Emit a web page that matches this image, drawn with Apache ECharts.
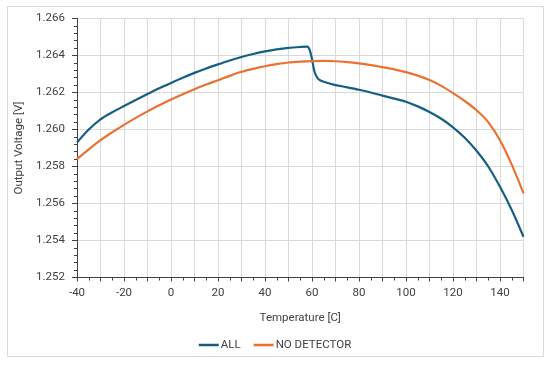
<!DOCTYPE html>
<html>
<head>
<meta charset="utf-8">
<script src="https://cdn.jsdelivr.net/npm/echarts@6/dist/echarts.min.js"></script>
<style>
html,body{margin:0;padding:0;background:#fff;}
#chart{width:550px;height:366px;}
</style>
</head>
<body>
<div id="chart"></div>
<script>
var seriesNames = ['ALL', 'NO DETECTOR'];
var tempAll = [-40,-35,-30,-25,-20,-15,-10,-5,0,5,10,15,20,25,30,35,40,45,50,55,58,59,60,61,62,63,65,70,75,80,85,90,95,100,105,110,115,120,125,130,135,140,145,150];
var voltAll = [1.25930,1.26000,1.26055,1.26093,1.26127,1.26160,1.26192,1.26223,1.26252,1.26280,1.26306,1.26330,1.26352,1.26373,1.26392,1.26408,1.26422,1.26433,1.26441,1.26446,1.26448,1.26430,1.26380,1.26315,1.26285,1.26270,1.26258,1.26240,1.26228,1.26215,1.26200,1.26183,1.26167,1.26150,1.26125,1.26095,1.26058,1.26012,1.25955,1.25885,1.25800,1.25690,1.25565,1.25420];
var tempND = [-40,-35,-30,-25,-20,-15,-10,-5,0,5,10,15,20,25,30,35,40,45,50,55,60,65,70,75,80,85,90,95,100,105,110,115,120,125,130,135,140,145,150];
var voltND = [1.25840,1.25893,1.25942,1.25985,1.26025,1.26063,1.26098,1.26131,1.26162,1.26191,1.26218,1.26243,1.26266,1.26290,1.26312,1.26328,1.26342,1.26353,1.26362,1.26367,1.26370,1.26371,1.26369,1.26364,1.26357,1.26348,1.26337,1.26325,1.26310,1.26291,1.26267,1.26236,1.26197,1.26154,1.26104,1.26040,1.25942,1.25810,1.25655];
var xMin = -40, xMax = 150, xStep = 10, xLabelStep = 20;
var yMin = 1.252, yMax = 1.266, yStep = 0.002;
var xTitle = 'Temperature [C]';
var yTitle = 'Output Voltage [V]';

function zip(a, b){ return a.map(function(v,i){ return [v, b[i]]; }); }

var chart = echarts.init(document.getElementById('chart'), null, {renderer:'canvas'});
var font = 'Roboto';
var txt = '#404040';
chart.setOption({
  animation: false,
  backgroundColor: '#ffffff',
  graphic: [{
    type: 'rect', z: -10,
    shape: {x: 7.5, y: 6.5, width: 536, height: 350},
    style: {fill: '#ffffff', stroke: '#d9d9d9', lineWidth: 1}
  }],
  grid: {left: 77, right: 26.5, top: 18.5, bottom: 88.5, containLabel: false},
  legend: {
    data: seriesNames,
    top: 334,
    left: 'center',
    itemWidth: 20,
    itemHeight: 2.5,
    itemGap: 13,
    icon: 'rect',
    textStyle: {fontFamily: font, fontSize: 11.5, color: txt, padding: [0,0,0,-3]}
  },
  xAxis: {
    type: 'value',
    min: xMin, max: xMax, interval: xStep,
    name: xTitle, nameLocation: 'middle', nameGap: 35,
    nameTextStyle: {fontFamily: font, fontSize: 11.5, color: txt},
    axisLine: {show: true, onZero: false, lineStyle: {color: '#404040', width: 1}},
    axisTick: {show: true, length: 4, lineStyle: {color: '#404040'}},
    minorTick: {show: true, splitNumber: 2, length: 3, lineStyle: {color: '#404040'}},
    axisLabel: {fontFamily: font, fontSize: 11.5, color: txt, margin: 10,
      formatter: function(v){ return (Math.round(v) % xLabelStep === 0) ? String(Math.round(v)) : ''; }},
    splitLine: {show: true, lineStyle: {color: '#d9d9d9', width: 1}}
  },
  yAxis: {
    type: 'value',
    min: yMin, max: yMax, interval: yStep,
    name: yTitle, nameLocation: 'middle', nameGap: 49, nameRotate: 90,
    nameTextStyle: {fontFamily: font, fontSize: 11.5, color: txt},
    axisLine: {show: true, onZero: false, lineStyle: {color: '#404040', width: 1}},
    axisTick: {show: true, length: 5, lineStyle: {color: '#404040'}},
    minorTick: {show: true, splitNumber: 5, length: 3, lineStyle: {color: '#404040'}},
    axisLabel: {fontFamily: font, fontSize: 11.5, color: txt, margin: 12,
      formatter: function(v){ return v.toFixed(3); }},
    splitLine: {show: true, lineStyle: {color: '#d9d9d9', width: 1}}
  },
  series: [
    {name: seriesNames[0], type: 'line', data: zip(tempAll, voltAll), showSymbol: false, symbol: 'none',
     smooth: 0.3, color: '#156082', lineStyle: {color: '#156082', width: 2.2}},
    {name: seriesNames[1], type: 'line', data: zip(tempND, voltND), showSymbol: false, symbol: 'none',
     smooth: 0.3, color: '#E97132', lineStyle: {color: '#E97132', width: 2.2}}
  ]
});
</script>
</body>
</html>
